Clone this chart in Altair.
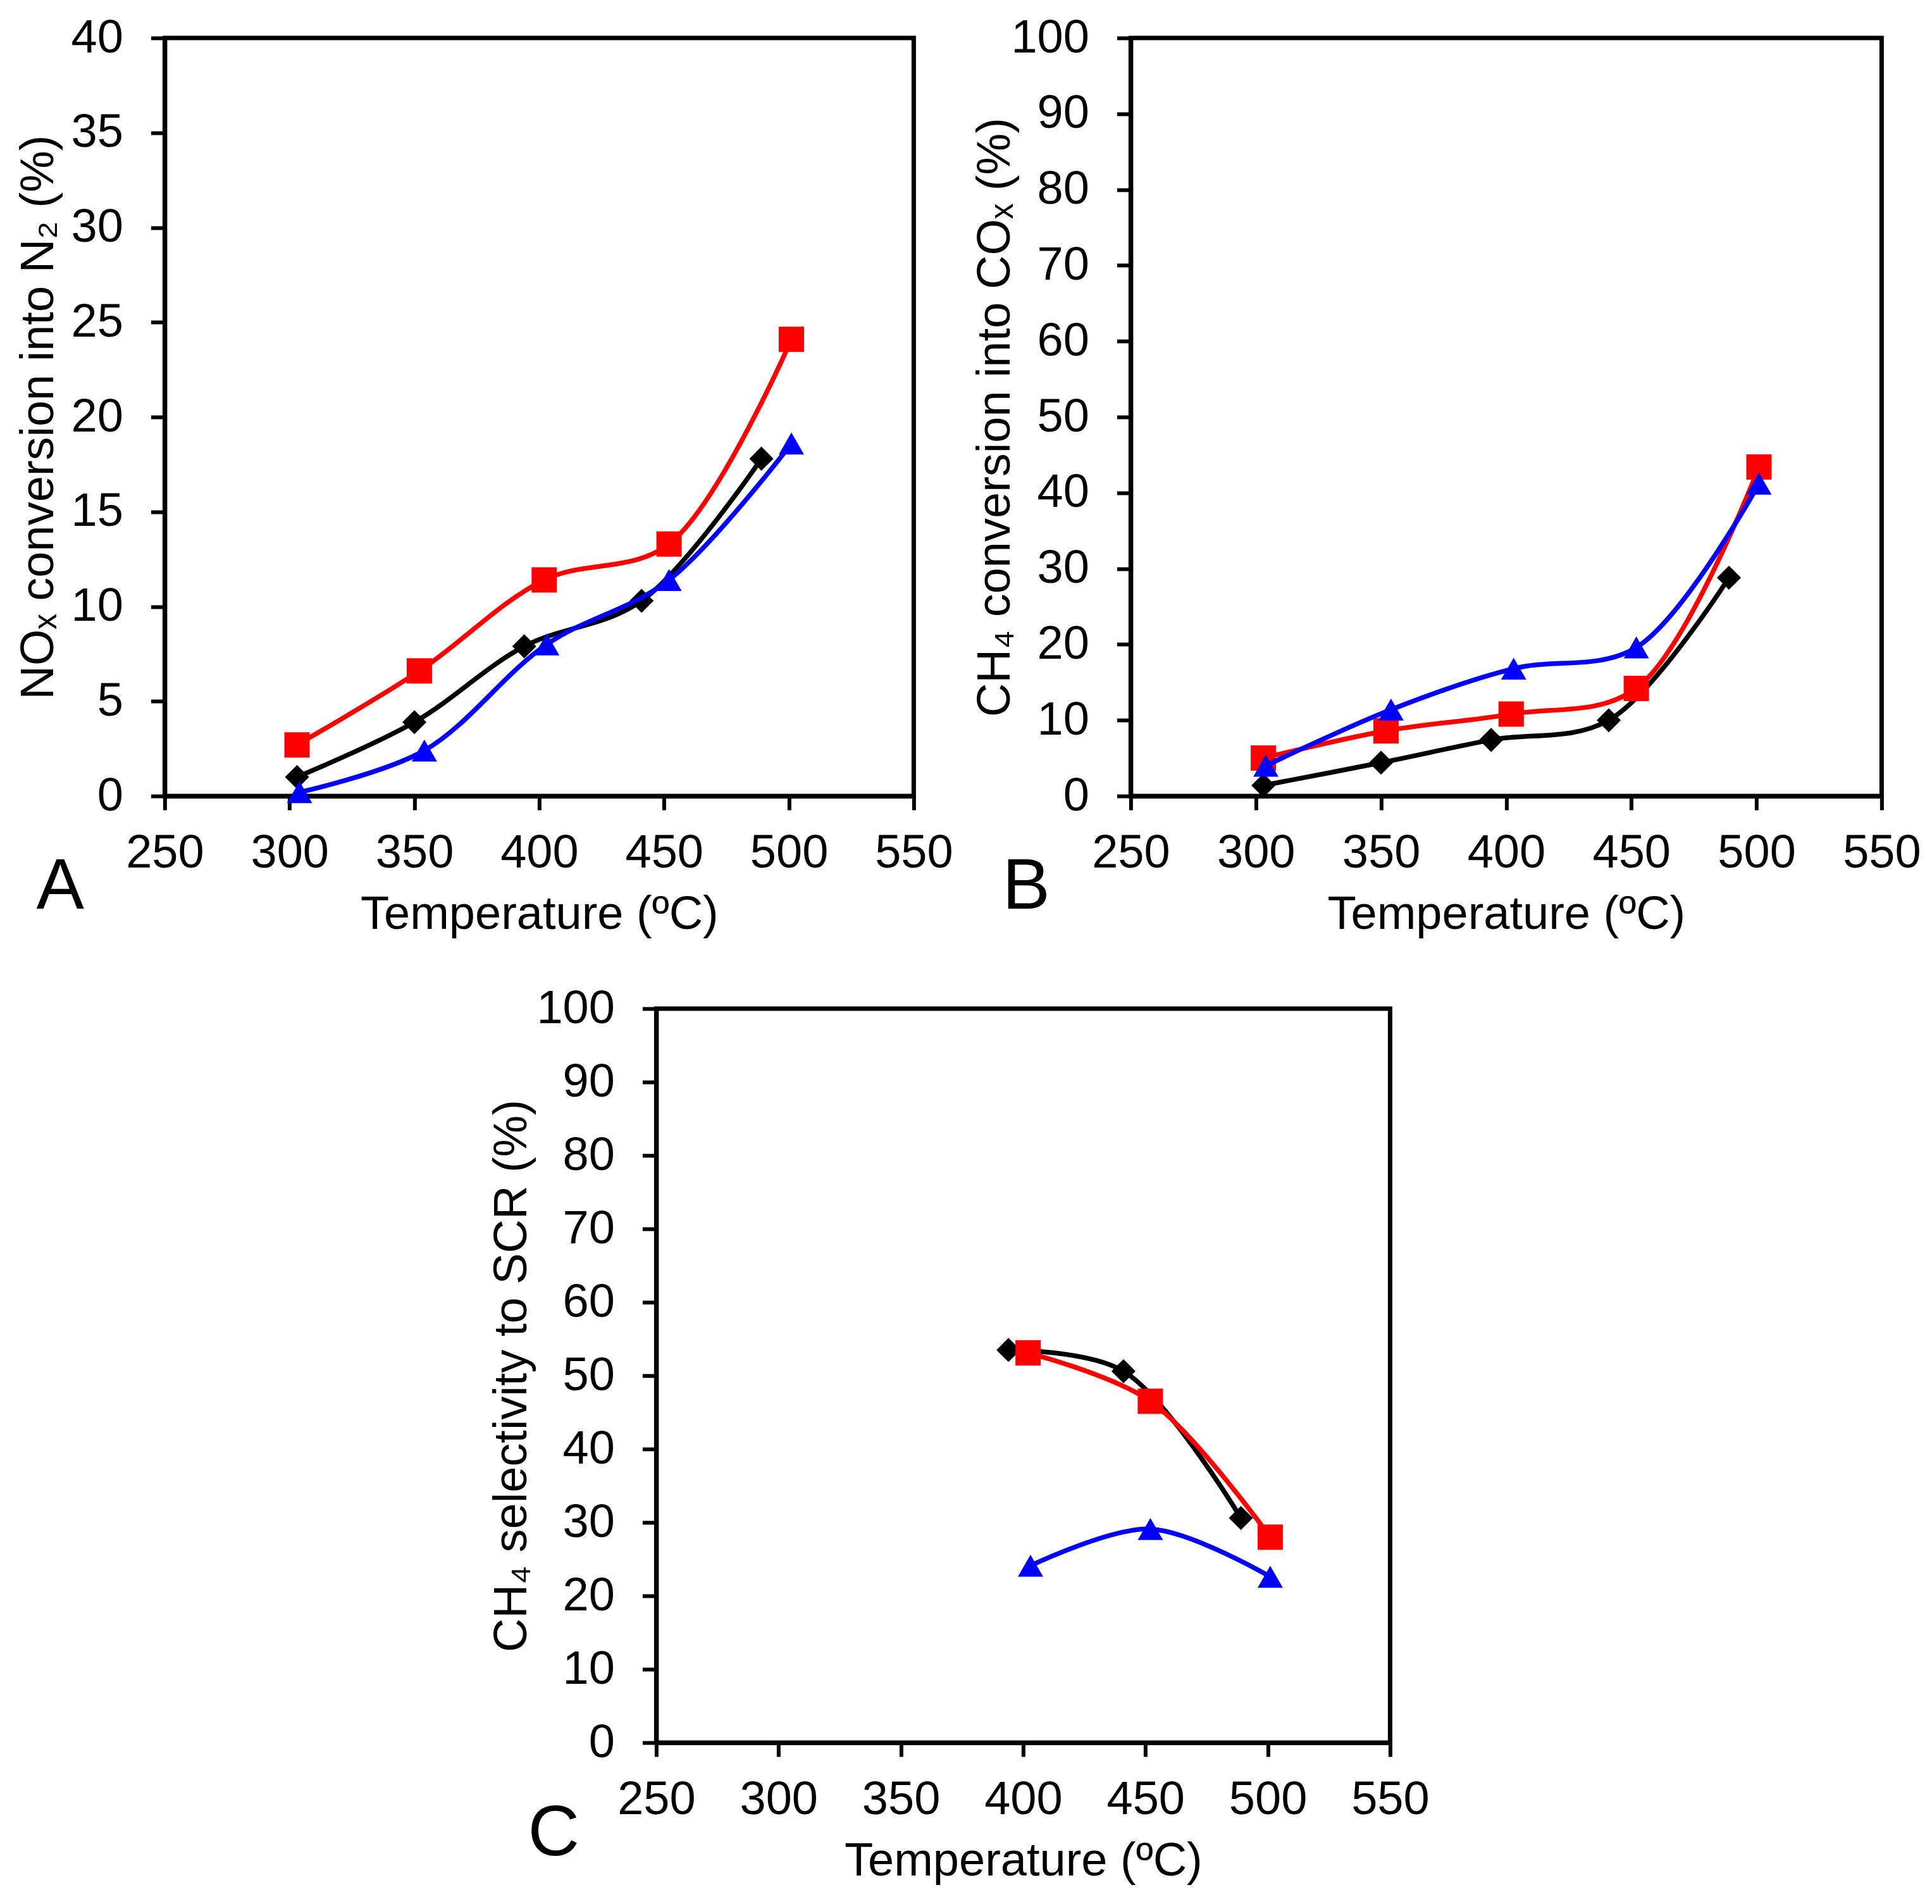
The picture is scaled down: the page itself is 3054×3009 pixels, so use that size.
import altair as alt
import pandas as pd

# Temperatures (ºC) for each catalyst series
T_black = [303, 350, 394, 441, 489]
T_red = [303, 352, 402, 452, 501]
T_blue = [304, 354, 403, 452, 501]

# Panel A: NOx conversion into N2 (%)
A_black = [1.0, 3.9, 7.9, 10.3, 17.8]
A_red = [2.7, 6.6, 11.4, 13.3, 24.1]
A_blue = [0.2, 2.4, 8.0, 11.4, 18.6]

# Panel B: CH4 conversion into COx (%)
B_black = [1.4, 4.4, 7.4, 10.0, 28.8]
B_red = [5.0, 8.6, 10.8, 14.2, 43.4]
B_blue = [4.0, 11.4, 16.8, 19.6, 41.2]

# Panel C: CH4 selectivity to SCR (%) (only the three highest temperatures)
C_black = [53.5, 50.6, 30.6]
C_red = [53.1, 46.5, 28.0]
C_blue = [24.1, 29.1, 22.6]

x_ticks = [250, 300, 350, 400, 450, 500, 550]
yA_ticks = [0, 5, 10, 15, 20, 25, 30, 35, 40]
yBC_ticks = [0, 10, 20, 30, 40, 50, 60, 70, 80, 90, 100]

FONT = "Liberation Sans"

styles = [
    ("black", "#000000", "diamond", 1450),
    ("red", "#FF0000", "square", 1600),
    ("blue", "#0000FF", "triangle-up", 1600),
]


def panel(series, ytitle, ymax, yticks, letter, w, h, title_x):
    layers = []
    xenc = alt.X(
        "T:Q",
        scale=alt.Scale(domain=[250, 550], nice=False, zero=False),
        axis=alt.Axis(values=x_ticks, title="Temperature (ºC)"),
    )
    yenc = alt.Y(
        "v:Q",
        scale=alt.Scale(domain=[0, ymax], nice=False),
        axis=alt.Axis(values=yticks, title=ytitle, titleX=title_x),
    )
    for (name, color, shape, size) in styles:
        temps, vals = series[name]
        df = pd.DataFrame({"T": temps, "v": vals})
        base = alt.Chart(df)
        layers.append(
            base.mark_line(color=color, strokeWidth=7.5, interpolate="catmull-rom").encode(x=xenc, y=yenc)
        )
        layers.append(
            base.mark_point(shape=shape, filled=True, size=size, color=color, opacity=1, strokeWidth=0).encode(
                x="T:Q", y="v:Q"
            )
        )
    lab = alt.Chart(pd.DataFrame({"t": [letter]})).mark_text(
        font=FONT, fontSize=113, align="left", baseline="alphabetic", color="black"
    ).encode(text="t:N", x=alt.value(-203), y=alt.value(h + 178))
    layers.append(lab)
    return alt.layer(*layers).properties(width=w, height=h)


pA = panel(
    {"black": (T_black, A_black), "red": (T_red, A_red), "blue": (T_blue, A_blue)},
    "NOₓ conversion into N₂ (%)", 40, yA_ticks, "A", 1184, 1198, -161,
)
pB = panel(
    {"black": (T_black, B_black), "red": (T_red, B_red), "blue": (T_blue, B_blue)},
    "CH₄ conversion into COₓ (%)", 100, yBC_ticks, "B", 1187, 1198, -176,
)
pC = panel(
    {"black": (T_black[2:], C_black), "red": (T_red[2:], C_red), "blue": (T_blue[2:], C_blue)},
    "CH₄ selectivity to SCR (%)", 100, yBC_ticks, "C", 1160, 1160, -190,
)

row1 = alt.hconcat(pA, pB, spacing=22)
chart = alt.vconcat(row1, pC, spacing=67, center=True).properties(
    padding={"left": 12, "top": 11, "right": 5, "bottom": 5},
    background="white",
).configure_view(
    stroke="black", strokeWidth=7
).configure_axis(
    labelFont=FONT, labelFontSize=74, labelColor="black",
    titleFont=FONT, titleFontSize=74, titleFontWeight="normal", titleColor="black",
    domainColor="black", domainWidth=7, tickColor="black", tickWidth=6, tickSize=22,
    grid=False, labelPadding=44, labelFlush=False, labelOverlap=False,
).configure_axisX(
    labelPadding=32, titlePadding=24,
).configure_axisY(
    labelPadding=44,
)

chart.save("out.html", embed_options={"renderer": "svg", "actions": False})
